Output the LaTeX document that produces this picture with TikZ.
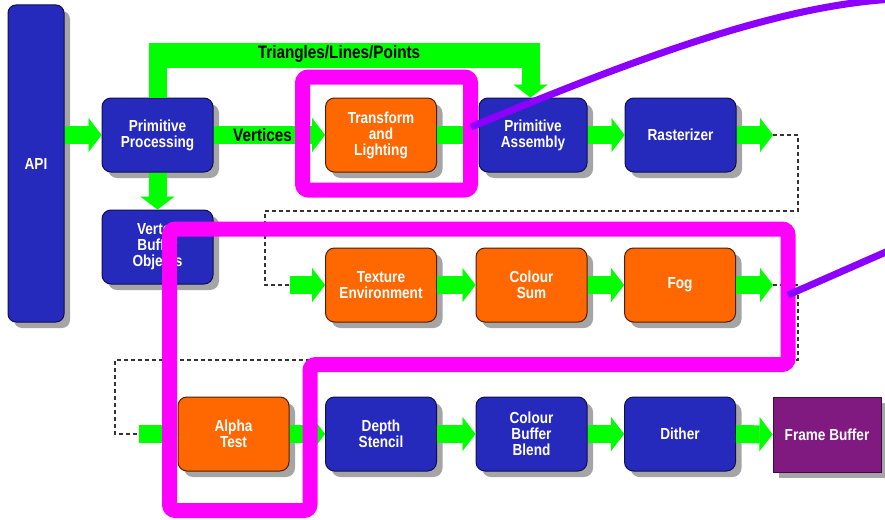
\documentclass[tikz,border=0pt]{standalone}
\usepackage{fontspec}
\setmainfont{Liberation Sans}
\newfontfamily\diafont{Liberation Sans}[FakeStretch=0.85]
\usetikzlibrary{arrows.meta,shadows,calc}
\definecolor{boxblue}{RGB}{38,42,188}
\definecolor{blueedge}{RGB}{15,15,80}
\definecolor{boxorange}{RGB}{255,104,0}
\definecolor{orangeedge}{RGB}{80,30,0}
\definecolor{fbpurple}{RGB}{128,26,128}
\definecolor{fbedge}{RGB}{60,10,60}
\definecolor{arrowgreen}{RGB}{0,255,0}
\definecolor{magframe}{RGB}{255,0,255}
\definecolor{violetline}{RGB}{140,0,255}
\definecolor{shadowgray}{RGB}{165,165,165}
\tikzset{
  box/.style={rounded corners=9pt, minimum width=111pt, minimum height=74pt,
    align=center, text=white, inner sep=0pt, line width=1pt,
    font=\diafont\bfseries\fontsize{16}{16}\selectfont,
    drop shadow={shadow xshift=6pt, shadow yshift=-6pt, fill=shadowgray, opacity=1}},
  bluebox/.style={box, fill=boxblue, draw=blueedge},
  orangebox/.style={box, fill=boxorange, draw=orangeedge},
  greenarrow/.style={draw=arrowgreen, line width=18pt,
    -{Triangle[width=34pt,length=13pt,line width=0.01pt]}},
  greenband/.style={draw=arrowgreen, line width=18pt},
  dashline/.style={draw=black!80, line width=1.3pt, dash pattern=on 4pt off 3pt},
  magbox/.style={draw=magframe, line width=15pt, rounded corners=6pt},
  violetstroke/.style={draw=violetline, line width=7pt},
  bandlabel/.style={text=black, font=\diafont\bfseries\fontsize{18}{18}\selectfont, inner sep=0pt}
}
\begin{document}
\begin{tikzpicture}[x=1pt,y=-1pt]
\useasboundingbox (0,0) rectangle (885,519);
\clip (0,0) rectangle (885,519);
\fill[white] (0,0) rectangle (885,519);

% boxes
\node[bluebox, minimum width=56pt, minimum height=317pt, rounded corners=8pt] (API) at (36,163.5) {API};
\node[bluebox] (PP) at (157.5,135) {Primitive\\Processing};
\node[orangebox] (TL) at (381,135) {Transform\\and\\Lighting};
\node[bluebox, minimum width=108pt] (PA) at (533,135) {Primitive\\Assembly};
\node[bluebox] (RA) at (680.5,135) {Rasterizer};
\node[bluebox] (VBO) at (157.5,247) {Vertex\\Buffer\\Objects};
\node[orangebox] (TE) at (381,285) {Texture\\Environment};
\node[orangebox] (CS) at (531.5,285) {Colour\\Sum};
\node[orangebox] (FO) at (680,285) {Fog};
\node[orangebox] (AT) at (233.5,434) {Alpha\\Test};
\node[bluebox] (DS) at (381,434) {Depth\\Stencil};
\node[bluebox] (CB) at (531.5,434) {Colour\\Buffer\\Blend};
\node[bluebox] (DI) at (680,434) {Dither};
\node[box, rounded corners=0pt, fill=fbpurple, draw=fbedge, minimum width=108pt, minimum height=75pt] (FB) at (827,434.5) {Frame Buffer};

% helper coordinates
\coordinate (trl) at (157.5,55.5);
\coordinate (trr) at (530.5,55.5);
\coordinate (r1) at (773,135);
\coordinate (t0) at (290,285);
\coordinate (f1) at (773,285);
\coordinate (a0) at (139,434);

% green arrows
\draw[greenarrow] (PP.west -| API.east) -- (PP.west);
\draw[greenarrow] (PP.east) -- node[bandlabel, pos=0.44] {Vertices} (TL.west);
\draw[greenarrow] (TL.east) -- (PA.west);
\draw[greenarrow] (PA.east) -- (RA.west);
\draw[greenarrow] (RA.east) -- (r1);
\draw[greenarrow] (PP.south) -- (VBO.north);
\draw[greenband] (PP.north) -- (trl);
\fill[arrowgreen] (148.5,43) rectangle (539.5,68);
\draw[greenarrow] (trr) -- (trr |- PA.north);
\node[bandlabel] (TLP) at (339,54) {Triangles/Lines/Points};

\draw[greenarrow] (t0) -- (TE.west);
\draw[greenarrow] (TE.east) -- (CS.west);
\draw[greenarrow] (CS.east) -- (FO.west);
\draw[greenarrow] (FO.east) -- (f1);

\draw[greenarrow] (a0) -- (AT.west);
\draw[greenarrow] (AT.east) -- (DS.west);
\draw[greenarrow] (DS.east) -- (CB.west);
\draw[greenarrow] (CB.east) -- (DI.west);
\draw[greenarrow] (DI.east) -- (FB.west);

% dashed connectors
\draw[dashline] (r1) -- (798,135) -- (798,211) -- (265,211) -- (265,285) -- (t0);
\draw[dashline] (f1) -- (798,285) -- (798,360) -- (115,360) -- (115,434) -- (a0);

% magenta frames
\draw[magbox] (302.5,77) rectangle (470.5,190);
\draw[magbox] (169.5,229) -- (788,229) -- (788,364.5) -- (310,364.5) -- (310,510.5) -- (169.5,510.5) -- cycle;

% violet lines
\draw[violetstroke] (471,127) .. controls (640,57) and (780,5) .. (895,-1);
\draw[violetstroke] (788,295) -- (895,248);
\end{tikzpicture}
\end{document}
